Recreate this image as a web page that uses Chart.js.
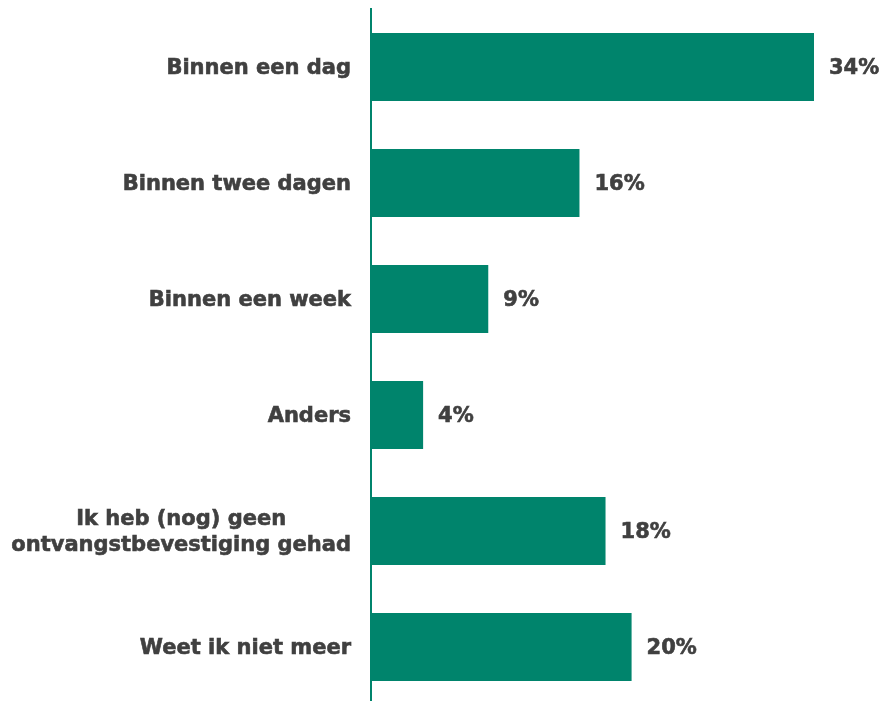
<!DOCTYPE html>
<html>
<head>
<meta charset="utf-8">
<script src="https://cdn.jsdelivr.net/npm/chart.js@4/dist/chart.umd.min.js"></script>
<style>
  html, body { margin: 0; padding: 0; background: #fff; overflow: hidden; }
  #wrap { width: 888px; height: 701px; overflow: hidden; }
</style>
</head>
<body>
<div id="wrap"><canvas id="chart" width="888" height="706"></canvas></div>
<script>
const categories = [
  ['Binnen een dag'],
  ['Binnen twee dagen'],
  ['Binnen een week'],
  ['Anders'],
  ['Ik heb (nog) geen', 'ontvangstbevestiging gehad'],
  ['Weet ik niet meer'],
]
const percentages = [34, 16, 9, 4, 18, 20]

const BAR_COLOR = '#00846c'
const TEXT_COLOR = '#404040'
const FONT = 'bold 21px "DejaVu Sans", Verdana, sans-serif'

// bold text with a hairline stroke so it reads a bit heavier
function heavyText(ctx, text, x, y) {
  ctx.fillText(text, x, y)
  ctx.strokeText(text, x, y)
}

function setupText(ctx, align) {
  ctx.font = FONT
  ctx.fillStyle = TEXT_COLOR
  ctx.strokeStyle = TEXT_COLOR
  ctx.lineWidth = 0.6
  ctx.textAlign = align
  ctx.textBaseline = 'middle'
}

// category names: right edge 20px left of the axis, lines centred on each other
const categoryLabels = {
  id: 'categoryLabels',
  afterDraw(chart) {
    const { ctx, scales: { y } } = chart
    const right = y.right - 20
    const lineH = 26
    ctx.save()
    setupText(ctx, 'center')
    categories.forEach((lines, i) => {
      const cy = y.getPixelForValue(i) + 2
      const w = Math.max(...lines.map((l) => ctx.measureText(l).width))
      const cx = right - w / 2
      lines.forEach((line, j) => {
        heavyText(ctx, line, cx, cy + (j - (lines.length - 1) / 2) * lineH)
      })
    })
    ctx.restore()
  },
}

// percentage next to each bar end
const valueLabels = {
  id: 'valueLabels',
  afterDatasetsDraw(chart) {
    const { ctx } = chart
    const meta = chart.getDatasetMeta(0)
    ctx.save()
    setupText(ctx, 'left')
    meta.data.forEach((bar, i) => {
      heavyText(ctx, percentages[i] + '%', bar.x + 15, bar.y + 2)
    })
    ctx.restore()
  },
}

new Chart(document.getElementById('chart'), {
  type: 'bar',
  data: {
    labels: categories.map((c) => c.join(' ')),
    datasets: [{
      data: percentages,
      backgroundColor: BAR_COLOR,
      borderWidth: 0,
      categoryPercentage: 1,
      barPercentage: 0.586,
    }],
  },
  options: {
    indexAxis: 'y',
    responsive: false,
    animation: false,
    layout: { padding: { top: 9, bottom: 1, right: 74, left: 0 } },
    plugins: {
      legend: { display: false },
      tooltip: { enabled: false },
    },
    scales: {
      x: { display: false, min: 0, max: 34 },
      y: {
        ticks: { display: false },
        grid: { display: false },
        border: { color: BAR_COLOR, width: 2 },
        afterFit: (scale) => { scale.width = 371 },
      },
    },
  },
  plugins: [categoryLabels, valueLabels],
})
</script>
</body>
</html>
